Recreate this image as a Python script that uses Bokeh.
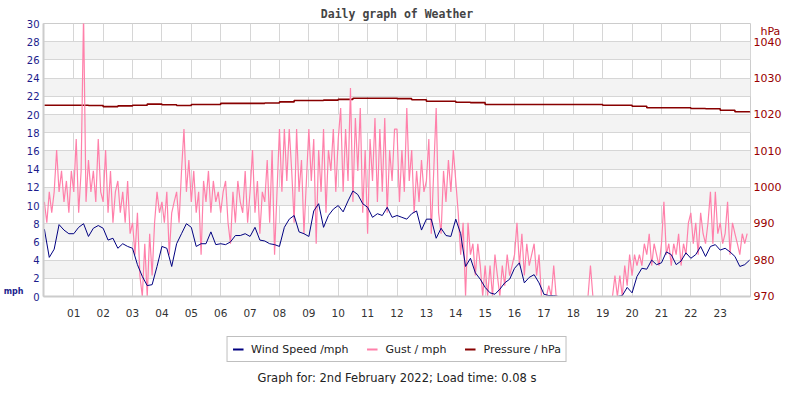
import numpy as np
from bokeh.plotting import figure
from bokeh.layouts import column
from bokeh.models import Range1d, LinearAxis, FixedTicker, Legend, LegendItem, Label
from bokeh.embed import file_html
from bokeh.resources import INLINE

# ---------------- data ----------------
hour_ticks = list(range(1, 24))
hour_labels = {h: "%02d" % h for h in hour_ticks}
mph_ticks = list(range(0, 31, 2))
hpa_ticks = list(range(970, 1041, 10))

# wind speed (mph), every 10 minutes from 00:00
wind = [
    7.4, 4.3, 5.2, 7.9, 7.3, 6.9,
    6.9, 7.6, 8.0, 6.6, 7.5, 7.8,
    7.5, 6.2, 6.4, 5.3, 5.8, 5.5,
    5.3, 3.5, 2.2, 1.2, 1.3, 3.3,
    5.5, 5.3, 3.3, 5.8, 6.9, 8.0,
    7.6, 5.5, 5.8, 5.8, 7.1, 5.7,
    5.8, 5.7, 6.0, 6.7, 6.7, 6.9,
    6.6, 7.6, 6.2, 6.1, 5.8, 5.7,
    5.5, 7.6, 8.5, 8.9, 7.1, 6.9,
    6.6, 9.4, 10.2, 7.6, 8.9, 9.6,
    10.0, 9.3, 10.5, 11.6, 11.2, 10.2,
    9.8, 8.7, 9.1, 8.9, 9.8, 8.7,
    8.9, 8.7, 8.5, 9.1, 9.4, 7.3,
    8.5, 8.5, 6.4, 7.5, 6.7, 6.6,
    8.5, 6.9, 3.3, 4.2, 2.6, 1.9,
    1.0, 0.4, 0.25, 0.8, 1.5, 1.9,
    3.1, 3.7, 1.5, 2.1, 2.4, 1.5,
    0.25, 0.1, 0.1, 0.0, 0.0, 0.0,
    0.0, 0.0, 0.0, 0.0, 0.0, 0.0,
    0.0, 0.0, 0.0, 0.0, 0.1, 1.0,
    0.4, 2.2, 3.1, 3.0, 4.0, 3.5,
    3.7, 4.9, 4.6, 3.5, 3.9, 4.8,
    4.2, 4.6, 5.5, 4.4, 5.5, 5.7,
    5.1, 5.3, 4.9, 4.4, 3.3, 3.5,
    4.0,
]

# gust (mph), every 5 minutes from 00:00
gust = [
    10.4, 8.1, 11.5, 9.2, 11.5, 16.1, 11.5, 13.8, 10.4, 12.7, 9.2, 13.8,
    11.5, 17.3, 9.2, 13.8, 31.0, 10.4, 15.0, 11.5, 13.8, 10.4, 17.3, 11.5,
    10.4, 16.1, 9.2, 13.8, 8.1, 11.5, 12.7, 9.2, 11.5, 8.1, 12.7, 6.9,
    8.1, 4.6, 9.2, 2.3, 0.0, 5.8, 0.0, 6.9, 2.3, 8.1, 11.5, 9.2,
    10.4, 8.1, 11.5, 4.6, 9.2, 10.4, 11.5, 8.1, 13.8, 18.4, 11.5, 15.0,
    10.4, 13.8, 9.2, 11.5, 4.6, 12.7, 10.4, 13.8, 9.2, 12.7, 10.4, 11.5,
    9.2, 11.5, 12.7, 8.1, 5.8, 11.5, 8.1, 12.7, 10.4, 9.2, 13.8, 8.1,
    11.5, 16.1, 9.2, 12.7, 6.9, 11.5, 10.4, 15.0, 8.1, 16.1, 4.6, 11.5,
    18.4, 11.5, 18.4, 12.7, 18.4, 13.8, 8.1, 18.4, 11.5, 15.0, 6.9, 12.7,
    18.4, 12.7, 17.3, 5.8, 16.1, 11.5, 18.4, 9.2, 16.1, 13.8, 18.4, 11.5,
    17.3, 20.7, 11.5, 18.4, 12.7, 22.9, 10.4, 19.6, 13.8, 20.7, 9.2, 16.1,
    6.9, 17.3, 12.7, 19.6, 10.4, 18.4, 11.5, 19.6, 9.2, 16.1, 12.7, 18.4,
    18.4, 10.4, 16.1, 11.5, 20.7, 12.7, 16.1, 9.2, 13.8, 10.4, 15.0, 11.5,
    12.7, 17.3, 6.9, 13.8, 20.7, 9.2, 6.9, 13.8, 10.4, 15.0, 11.5, 16.1,
    12.7, 9.2, 4.6, 8.1, 0.0, 8.1, 4.6, 5.8, 2.3, 5.8, 3.4, 0.0,
    3.4, 0.0, 3.4, 0.0, 4.6, 2.3, 0.0, 3.4, 1.2, 4.6, 2.3, 3.4,
    4.6, 8.1, 3.4, 6.9, 2.3, 5.8, 3.4, 4.6, 5.8, 2.3, 4.6, 0.0,
    0.0, 0.0, 1.2, 0.0, 3.4, 0.0, 0.0, 0.0, 0.0, 0.0, 0.0, 0.0,
    0.0, 0.0, 0.0, 0.0, 0.0, 0.0, 0.0, 3.4, 0.0, 0.0, 0.0, 0.0,
    0.0, 0.0, 0.0, 0.0, 0.0, 2.3, 0.0, 2.3, 0.0, 3.4, 1.2, 4.6,
    2.3, 4.6, 3.4, 4.6, 3.4, 5.8, 4.6, 6.9, 3.4, 5.8, 4.6, 3.4,
    5.8, 10.4, 4.6, 5.8, 3.4, 5.8, 4.6, 6.9, 3.4, 5.8, 4.6, 8.1,
    9.2, 5.8, 8.1, 4.6, 9.2, 6.9, 5.8, 8.1, 11.5, 5.8, 11.5, 6.9,
    8.1, 5.8, 6.9, 10.4, 4.6, 8.1, 6.9, 5.8, 4.6, 6.9, 5.8, 6.9,
]

# pressure (hPa), every 30 minutes from 00:00
pressure = [
    1022.7, 1022.7, 1022.7, 1022.6, 1022.3, 1022.5, 1022.7, 1023.0,
    1022.8, 1022.6, 1022.9, 1022.9, 1023.2, 1023.2, 1023.2, 1023.3,
    1023.6, 1024.0, 1024.0, 1024.1, 1024.3, 1024.6, 1024.6, 1024.6,
    1024.5, 1024.2, 1023.8, 1023.8, 1023.5, 1023.4, 1022.9, 1022.9,
    1022.9, 1022.9, 1022.9, 1022.9, 1022.9, 1022.9, 1022.7, 1022.7,
    1022.4, 1022.0, 1022.0, 1022.0, 1021.8, 1021.7, 1021.3, 1020.9,
    1020.7,
]

wind_t = np.arange(len(wind)) / 6.0
gust_t = np.arange(len(gust)) / 12.0
pres_t = np.arange(len(pressure)) / 2.0

# ---------------- styles ----------------
BLUE = "#000080"
PINK = "#ff80aa"
RED = "#880000"
GRID = "#d6d6d6"
FONT = "DejaVu Sans"
AXIS_BLUE = "#1c1c8c"
AXIS_RED = "#990000"
NB = "\u00a0"

p = figure(width=784, height=320, output_backend="svg", toolbar_location=None,
           x_range=Range1d(-0.03, 24.03), y_range=Range1d(0, 30),
           min_border_left=38, min_border_right=31, min_border_top=23,
           min_border_bottom=24)
p.extra_y_ranges = {"p": Range1d(970, 1045.2), "m": Range1d(0, 60)}

p.outline_line_color = "#cccccc"
p.outline_line_width = 1
p.background_fill_color = "white"
p.border_fill_color = "white"

# title
p.title.text = "Daily graph of Weather"
p.title.align = "center"
p.title.text_font = "DejaVu Sans Mono"
p.title.text_font_style = "bold"
p.title.text_font_size = "11.5px"
p.title.text_color = "#444444"
p.title.standoff = 6


def plain_axis(ax):
    ax.major_tick_line_color = None
    ax.major_tick_out = 0
    ax.major_tick_in = 0
    ax.minor_tick_line_color = None
    ax.minor_tick_out = 0
    ax.minor_tick_in = 0
    ax.axis_label_standoff = 0


# x axis
xa = p.xaxis[0]
plain_axis(xa)
xa.ticker = FixedTicker(ticks=hour_ticks)
xa.major_label_overrides = hour_labels
xa.axis_line_color = "#cccccc"
xa.axis_line_width = 2
xa.major_label_text_font = FONT
xa.major_label_text_font_size = "10.5px"
xa.major_label_text_color = "#333333"
xa.major_label_standoff = 12

# left axis (mph)
ya = p.yaxis[0]
plain_axis(ya)
ya.ticker = FixedTicker(ticks=mph_ticks)
ya.axis_line_color = "#cccccc"
ya.axis_line_width = 2
ya.major_label_text_font = FONT
ya.major_label_text_font_size = "10px"
ya.major_label_text_color = AXIS_BLUE
ya.major_label_standoff = 4

# outer left axis carrying the "mph" unit text
ua = LinearAxis(y_range_name="m", ticker=FixedTicker(ticks=[1]),
                major_label_overrides={1: "mph"})
plain_axis(ua)
ua.axis_line_color = None
ua.major_label_standoff = 0
ua.major_label_text_font = FONT
ua.major_label_text_font_style = "bold"
ua.major_label_text_font_size = "8px"
ua.major_label_text_color = AXIS_BLUE
p.add_layout(ua, "left")

# right axis (hPa) with the unit text as its top label
ra = LinearAxis(y_range_name="p", ticker=FixedTicker(ticks=hpa_ticks + [1043]),
                major_label_overrides={1043: NB + NB + "hPa"})
plain_axis(ra)
ra.axis_line_color = None
ra.major_label_text_font = FONT
ra.major_label_text_font_size = "11px"
ra.major_label_text_color = AXIS_RED
ra.major_label_standoff = 3
p.add_layout(ra, "right")

# grids
p.xgrid.ticker = FixedTicker(ticks=hour_ticks)
p.xgrid.grid_line_color = GRID
p.xgrid.grid_line_width = 1
p.ygrid.ticker = FixedTicker(ticks=mph_ticks)
p.ygrid.grid_line_color = GRID
p.ygrid.grid_line_width = 1
p.ygrid.band_fill_color = "#f3f3f3"
p.ygrid.band_fill_alpha = 1

# series
p.step(pres_t, pressure, y_range_name="p", line_color=RED, line_width=1.6, mode="after")
p.line(gust_t, gust, line_color=PINK, line_width=1.2)
p.line(wind_t, wind, line_color=BLUE, line_width=1)

# ---------------- legend + footer strip ----------------
q = figure(width=784, height=64, output_backend="svg", toolbar_location=None,
           x_range=Range1d(0, 1), y_range=Range1d(0, 1),
           x_axis_location=None, y_axis_location=None,
           min_border=0, min_border_left=0, min_border_right=0,
           min_border_top=0, min_border_bottom=0)
q.outline_line_color = None
q.xgrid.visible = False
q.ygrid.visible = False
q.background_fill_color = "white"
q.border_fill_color = "white"

# legend sample lines (kept outside the visible range; only their legend marks show)
lw = q.line([2, 3], [2, 2], line_color=BLUE, line_width=2)
lg = q.line([2, 3], [2, 2], line_color=PINK, line_width=2)
lp = q.line([2, 3], [2, 2], line_color=RED, line_width=2)
legend = Legend(items=[LegendItem(label="Wind Speed /mph", renderers=[lw]),
                       LegendItem(label="Gust / mph", renderers=[lg]),
                       LegendItem(label="Pressure / hPa", renderers=[lp])],
                orientation="horizontal", location="top_center", margin=16,
                padding=5, spacing=18, glyph_width=11, glyph_height=14,
                label_height=14, label_standoff=8,
                label_text_font=FONT, label_text_font_size="11px",
                label_text_color="#222222",
                border_line_color="#808080", border_line_width=1,
                background_fill_color="white", background_fill_alpha=1)
q.add_layout(legend, "center")

q.add_layout(Label(x=0.5, y=7, x_units="data", y_units="screen",
                   text="Graph for: 2nd February 2022; Load time: 0.08 s",
                   text_align="center", text_baseline="middle",
                   text_font=FONT, text_font_size="11.5px", text_color="#222222"))

layout = column(p, q, spacing=0)
open("out.html", "w").write(file_html(layout, INLINE))
